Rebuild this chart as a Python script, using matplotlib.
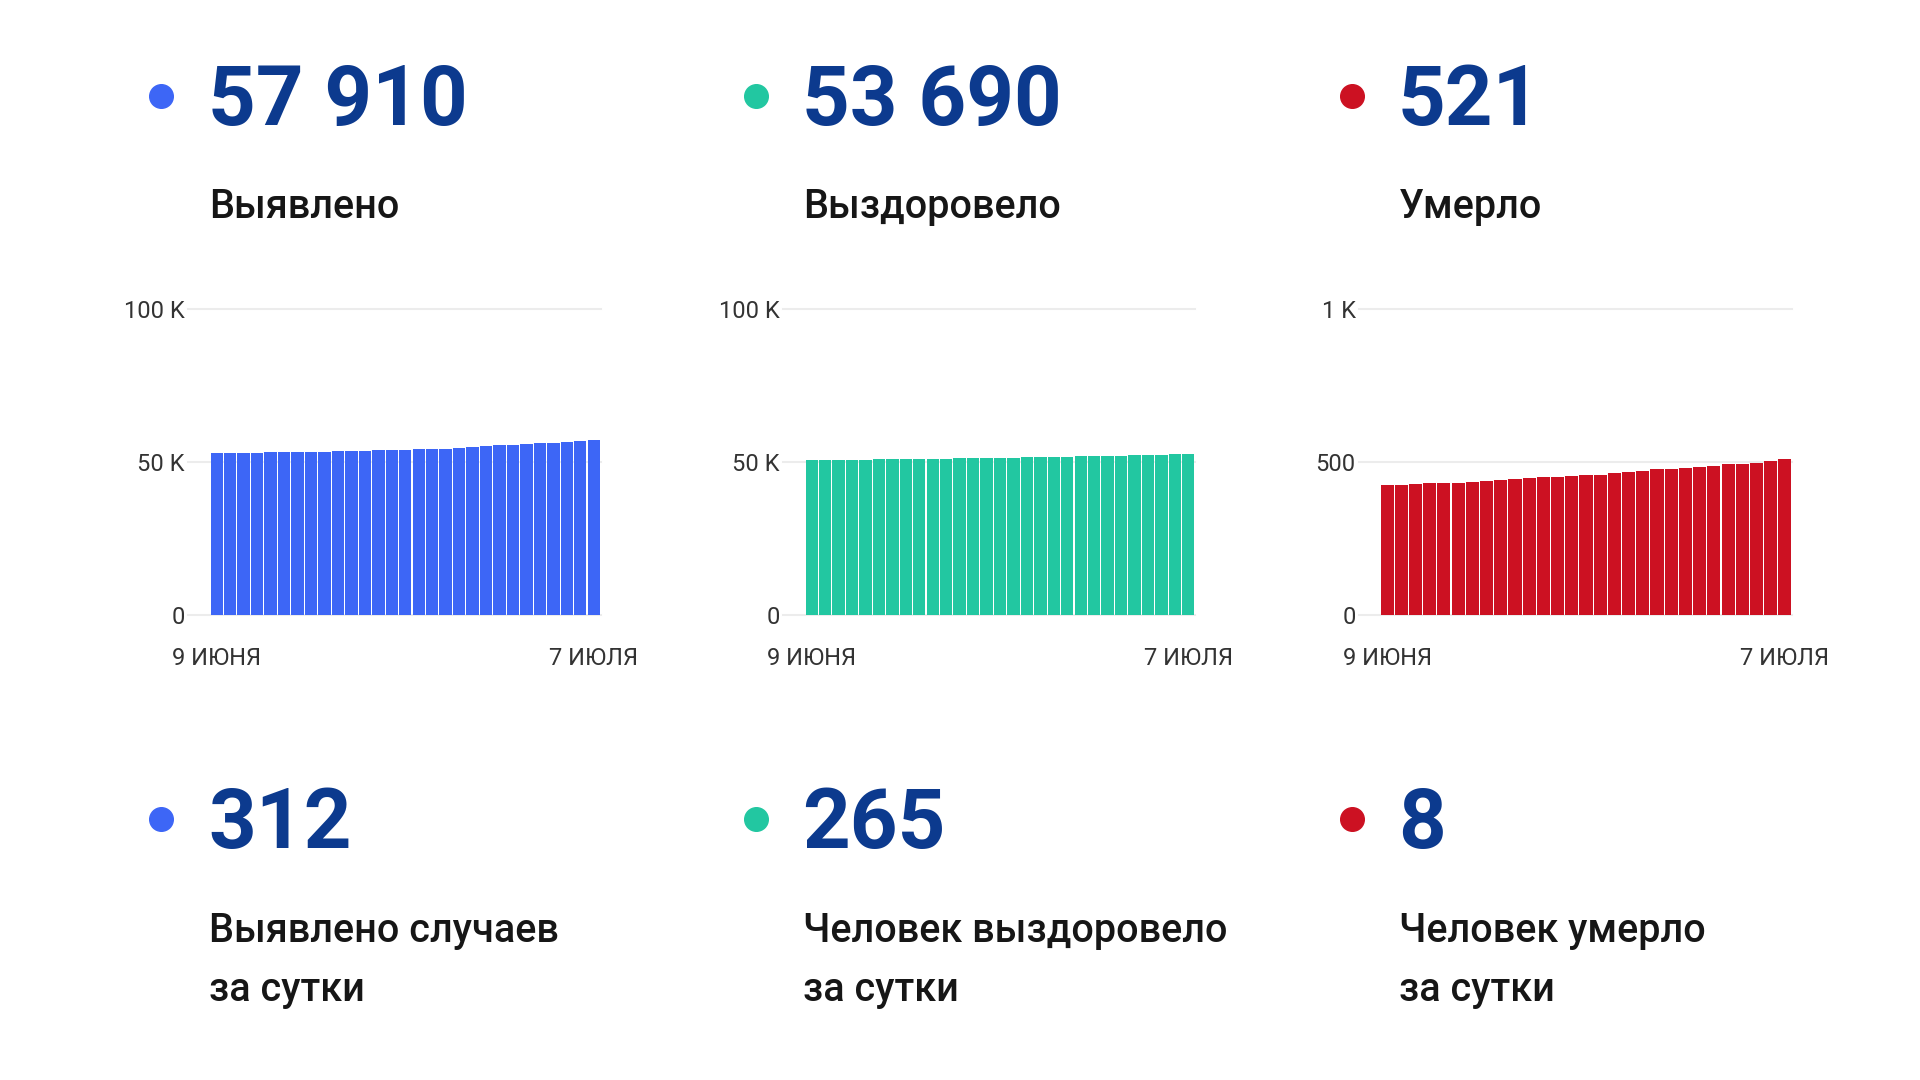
import matplotlib
matplotlib.use("Agg")
import matplotlib.pyplot as plt
from matplotlib.lines import Line2D

plt.rcParams["font.family"] = ["Roboto", "DejaVu Sans"]

# 9 June .. 7 July, one bar per day
x_labels = ["9 ИЮНЯ", "7 ИЮЛЯ"]
cases = [52780, 52890, 53000, 53100, 53200, 53230, 53300, 53330, 53400, 53440,
         53500, 53650, 53760, 53870, 53980, 54090, 54300, 54400, 54600, 54850,
         55070, 55400, 55600, 55800, 56050, 56270, 56600, 56900, 57300]
recovered = [50600, 50620, 50700, 50720, 50800, 50830, 50880, 50950, 51000, 51080,
             51120, 51200, 51250, 51320, 51380, 51450, 51550, 51600, 51680, 51760,
             51800, 51900, 51980, 52080, 52200, 52330, 52450, 52580, 52700]
deaths = [424, 426, 429, 430, 431, 433, 436, 437, 441, 444,
          447, 450, 451, 453, 456, 459, 463, 468, 471, 477,
          478, 482, 485, 487, 493, 494, 498, 504, 510]

totals = ["57 910", "53 690", "521"]
daily = ["312", "265", "8"]
titles = ["Выявлено", "Выздоровело", "Умерло"]
daily_titles = [["Выявлено случаев", "за сутки"],
                ["Человек выздоровело", "за сутки"],
                ["Человек умерло", "за сутки"]]
y_ticks = [[0, 50000, 100000], [0, 50000, 100000], [0, 500, 1000]]
y_tick_labels = [["0", "50 K", "100 K"], ["0", "50 K", "100 K"], ["0", "500", "1 K"]]

colors = ["#3d66f6", "#22c7a1", "#cc1122"]
num_color = "#0c3a8e"
text_color = "#161616"

W, H = 1920, 1080
fig = plt.figure(figsize=(W / 100, H / 100), dpi=100)
fig.patch.set_facecolor("white")


def fx(px):
    return px / W


def fy(py):
    return 1 - py / H


def drawPanel(series, color, ticks, tick_labels, grid_left, bar_left, bar_right):
    """one small bar chart"""

    n = len(series)
    pitch = (bar_right - bar_left) / n
    offset = (bar_left - grid_left) / pitch
    top, bottom = 309, 615
    ax = fig.add_axes([fx(grid_left), fy(bottom), fx(bar_right - grid_left),
                       (bottom - top) / H])
    for t in ticks:
        ax.axhline(t, color="#ececec", lw=1.5, zorder=0, clip_on=False)
    ax.bar(range(n), series, width=0.92, color=color, zorder=2)
    ax.set_xlim(-0.5 - offset, n - 0.5)
    ax.set_ylim(ticks[0], ticks[-1])
    ax.set_yticks(ticks)
    ax.set_yticklabels(tick_labels)
    ax.set_xticks([0, n - 1])
    ax.set_xticklabels(x_labels)
    ax.tick_params(axis="y", length=0, pad=2.5, labelsize=17, labelcolor="#333333")
    ax.tick_params(axis="x", length=0, pad=23, labelsize=17, labelcolor="#333333")
    for s in ax.spines.values():
        s.set_visible(False)
    ax.set_facecolor("none")


panels = [(188, 210, 600.5), (783, 805, 1195), (1359, 1380, 1792)]
text_x = [208, 802, 1398]
dot_x = [161, 756, 1352]
data = [cases, recovered, deaths]

for i in range(3):
    drawPanel(data[i], colors[i], y_ticks[i], y_tick_labels[i], *panels[i])

    # top block
    fig.add_artist(Line2D([fx(dot_x[i])], [fy(96)], marker="o", markersize=17,
                          color=colors[i], transform=fig.transFigure))
    fig.text(fx(text_x[i]), fy(125), totals[i], fontsize=60, fontweight="bold",
             color=num_color, va="baseline", ha="left")
    fig.text(fx(text_x[i] + 1), fy(218), titles[i], fontsize=28.5, fontweight="medium",
             color=text_color, va="baseline", ha="left")

    # bottom block
    fig.add_artist(Line2D([fx(dot_x[i])], [fy(819)], marker="o", markersize=17,
                          color=colors[i], transform=fig.transFigure))
    fig.text(fx(text_x[i]), fy(848), daily[i], fontsize=60, fontweight="bold",
             color=num_color, va="baseline", ha="left")
    fig.text(fx(text_x[i] + 1), fy(942), daily_titles[i][0], fontsize=28.5,
             fontweight="medium", color=text_color, va="baseline", ha="left")
    fig.text(fx(text_x[i] + 1), fy(1001), daily_titles[i][1], fontsize=28.5,
             fontweight="medium", color=text_color, va="baseline", ha="left")

fig.savefig("out.png", dpi=100, facecolor="white")
